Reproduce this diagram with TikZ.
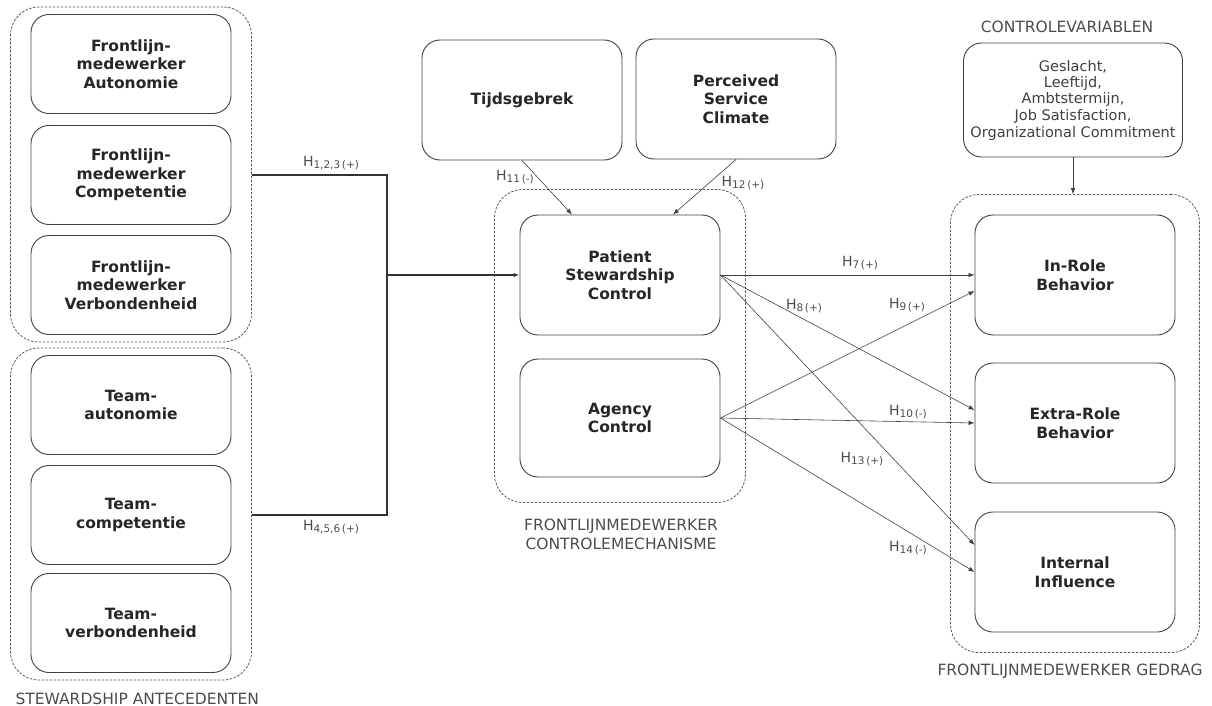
\documentclass[tikz,border=0pt]{standalone}
\usepackage{fontspec}
\setmainfont{DejaVu Sans}
\usetikzlibrary{fit,arrows.meta}

\newcommand{\hname}[2]{H\raisebox{-0.35ex}{\fontsize{10.5}{12}\selectfont #1\,(#2)}}

\tikzset{
  construct/.style={draw=black!75,line width=0.9pt,rounded corners=18pt,minimum width=200pt,
    minimum height=99pt,align=center,text=black!85,
    font=\fontsize{15.5}{18.5}\selectfont\bfseries},
  group/.style={draw=black!65,line width=0.8pt,dash pattern=on 2.5pt off 1.5pt,rounded corners=28pt},
  caption/.style={font=\fontsize{15.5}{19}\selectfont,text=black!70,align=center},
  hyp/.style={font=\fontsize{14}{16}\selectfont,text=black!70,inner sep=1pt},
  link/.style={->,draw=black!75,semithick},
  feed/.style={draw=black!80,line width=1.6pt},
}

\begin{document}
\begin{tikzpicture}[x=1pt,y=-1pt,>={Latex[length=6pt,width=4.5pt]}]

\useasboundingbox (0,0) rectangle (1212,706);

% stewardship antecedenten
\node[construct] (fa) at (131,64)  {Frontlijn-\\medewerker\\Autonomie};
\node[construct] (fc) at (131,175) {Frontlijn-\\medewerker\\Competentie};
\node[construct] (fv) at (131,285) {Frontlijn-\\medewerker\\Verbondenheid};
\node[construct] (ta) at (131,405) {Team-\\autonomie};
\node[construct] (tc) at (131,515) {Team-\\competentie};
\node[construct] (tv) at (131,623) {Team-\\verbondenheid};

\node[group,inner xsep=20pt,inner ysep=7pt,fit=(fa)(fv)] (antF) {};
\node[group,inner xsep=20pt,inner ysep=7pt,fit=(ta)(tv)] (antT) {};
\node[caption,anchor=west] (antLabel) at (12,699) {STEWARDSHIP ANTECEDENTEN};

% controlemechanisme
\node[construct,minimum height=120pt] (tijd) at (522,100) {Tijdsgebrek};
\node[construct,minimum height=120pt] (climate) at (736,99) {Perceived\\Service\\Climate};
\node[construct,minimum height=120pt] (psc) at (620,275) {Patient\\Stewardship\\Control};
\node[construct,minimum height=118pt] (agency) at (620,418) {Agency\\Control};

\node[group,inner sep=25pt,fit=(psc)(agency)] (mech) {};
\node[caption] (mechLabel) at (621,534) {FRONTLIJNMEDEWERKER\\CONTROLEMECHANISME};

% gedrag
\node[construct,minimum height=120pt] (inrole) at (1075,275) {In-Role\\Behavior};
\node[construct,minimum height=120pt] (extrarole) at (1075,423) {Extra-Role\\Behavior};
\node[construct,minimum height=120pt] (influence) at (1075,572) {Internal\\Influence};

\node[group,inner xsep=24pt,inner ysep=20pt,fit=(inrole)(influence)] (gedrag) {};
\node[caption] (gedragLabel) at (1070,671) {FRONTLIJNMEDEWERKER GEDRAG};

\node[construct,minimum width=219pt,minimum height=114pt,inner xsep=2pt,
  font=\fontsize{14.5}{16.5}\selectfont,text=black!75] (ctrl) at (1073,100)
  {Geslacht,\\Leeftijd,\\Ambtstermijn,\\Job Satisfaction,\\Organizational Commitment};
\node[caption] (ctrlLabel) at (1067,27) {CONTROLEVARIABLEN};

% connectors
\coordinate (join) at (387,275);
\draw[feed] (antF.east |- fc) -| (join);
\draw[feed] (antT.east |- tc) -| (join);
\draw[feed,->] (join) -- (psc.west);

\draw[link] (tijd.south) -- ([xshift=-48pt]psc.north);
\draw[link] (climate.south) -- ([xshift=53pt]psc.north);
\draw[link] (ctrl.south) -- (ctrl.south |- gedrag.north);

\draw[link] (psc.east) -- (inrole.west);
\draw[link] (psc.east) -- ([yshift=13pt]extrarole.west);
\draw[link] (psc.east) -- ([yshift=27pt]influence.west);
\draw[link] (agency.east) -- ([yshift=-16pt]inrole.west);
\draw[link] (agency.east) -- (extrarole.west);
\draw[link] (agency.east) -- (influence.west);

% labels
\node[hyp] (h123) at (331,163) {\hname{1,2,3}{+}};
\node[hyp] (h456) at (331,527) {\hname{4,5,6}{+}};
\node[hyp] (h11) at (515,177) {\hname{11}{-}};
\node[hyp] (h12) at (743,183) {\hname{12}{+}};
\node[hyp] (h7)  at (860,263) {\hname{7}{+}};
\node[hyp] (h8)  at (804,306) {\hname{8}{+}};
\node[hyp] (h9)  at (907,305) {\hname{9}{+}};
\node[hyp] (h10) at (908,412) {\hname{10}{-}};
\node[hyp] (h13) at (862,459) {\hname{13}{+}};
\node[hyp] (h14) at (908,548) {\hname{14}{-}};

\end{tikzpicture}
\end{document}
